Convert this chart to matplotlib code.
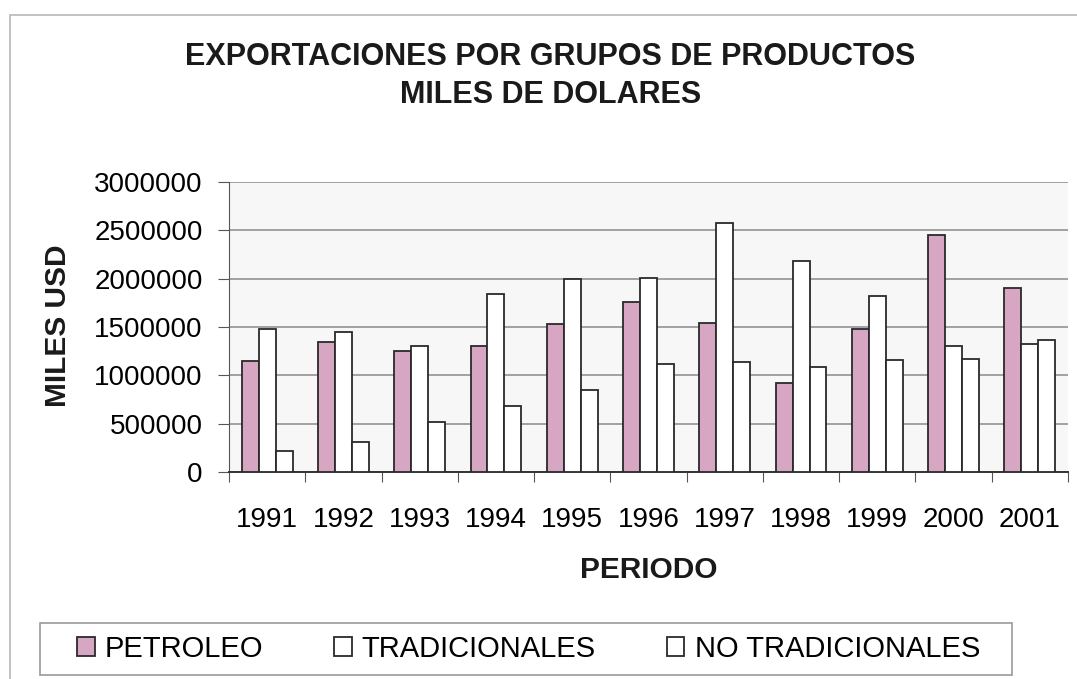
import matplotlib.pyplot as plt
import numpy as np
from matplotlib.patches import Rectangle
from matplotlib.ticker import FuncFormatter

plt.rcParams['font.family'] = ['Liberation Sans', 'DejaVu Sans']

years = ['1991', '1992', '1993', '1994', '1995', '1996', '1997', '1998', '1999', '2000', '2001']
petroleo = [1152000, 1341000, 1255000, 1303000, 1531000, 1755000, 1545000, 921000, 1483000, 2448000, 1903000]
tradicionales = [1483000, 1445000, 1303000, 1845000, 1993000, 2007000, 2576000, 2179000, 1821000, 1300000, 1321000]
no_tradicionales = [221000, 307000, 514000, 679000, 845000, 1117000, 1138000, 1090000, 1155000, 1172000, 1362000]

W, H = 1077, 679
fig = plt.figure(figsize=(W / 100, H / 100), dpi=100)
fig.patch.set_facecolor('white')

# chart area frame
fig.patches.append(Rectangle((10 / W, -0.01), 1.1, 1 - 15 / H + 0.01, transform=fig.transFigure,
                             fill=False, edgecolor='#b8b8b8', lw=1.2))

ax = fig.add_axes([229 / W, (H - 472) / H, 839 / W, 290 / H])
ax.set_facecolor('#f7f7f7')

x = np.arange(len(years))
w = 1 / 4.5
edge = '#2a2a2a'
ax.bar(x - w, petroleo, w, color='#d6a6c3', edgecolor=edge, lw=1.3, label='PETROLEO', zorder=3)
ax.bar(x, tradicionales, w, color='white', edgecolor=edge, lw=1.3, label='TRADICIONALES', zorder=3)
ax.bar(x + w, no_tradicionales, w, color='white', edgecolor=edge, lw=1.3, label='NO TRADICIONALES', zorder=3)

ax.set_xlim(-0.5, len(years) - 0.5)
ax.set_ylim(0, 3000000)
ax.set_yticks(np.arange(0, 3000001, 500000))
ax.yaxis.set_major_formatter(FuncFormatter(lambda v, p: '%d' % v))
ax.yaxis.grid(True, color='#8a8a8a', lw=1.1, zorder=0)

# category boundary ticks, labels centred
ax.set_xticks(np.arange(-0.5, len(years), 1))
ax.set_xticklabels([])
ax.set_xticks(x, minor=True)
ax.set_xticklabels(years, minor=True)
ax.tick_params(axis='x', which='major', length=7, color='#555555', direction='out')
ax.tick_params(axis='x', which='minor', length=0, pad=25, labelsize=20)
ax.tick_params(axis='y', length=8, color='#555555', pad=11, labelsize=20)

for s in ['top', 'right']:
    ax.spines[s].set_visible(False)
ax.spines['left'].set_color('#555555')
ax.spines['bottom'].set_color('#333333')
ax.spines['bottom'].set_linewidth(1.4)

fig.text(550 / W, 1 - 57 / H, 'EXPORTACIONES POR GRUPOS DE PRODUCTOS', ha='center', va='center',
         fontsize=22, fontweight='bold', color='#1a1a1a')
fig.text(551 / W, 1 - 95 / H, 'MILES DE DOLARES', ha='center', va='center',
         fontsize=22, fontweight='bold', color='#1a1a1a')
fig.text(58 / W, 1 - 326 / H, 'MILES USD', rotation=90, ha='center', va='center',
         fontsize=21.5, fontweight='bold', color='#1a1a1a')
fig.text(649 / W, 1 - 570 / H, 'PERIODO', ha='center', va='center',
         fontsize=21.5, fontweight='bold', color='#1a1a1a')

# legend: frame drawn separately, entries spread evenly inside
fig.patches.append(Rectangle((40 / W, 1 - 675 / H), 972 / W, 52 / H, transform=fig.transFigure,
                             facecolor='white', edgecolor='#9a9a9a', lw=1.2, zorder=5))
leg = fig.legend(loc='center', bbox_to_anchor=(77 / W, 1 - 670 / H, 903 / W, 42 / H), mode='expand',
                 ncol=3, fontsize=21, frameon=False, handlelength=0.6, handleheight=0.6,
                 handletextpad=0.35, borderpad=0, borderaxespad=0)
leg.set_zorder(6)

fig.savefig('out.png', dpi=100)
